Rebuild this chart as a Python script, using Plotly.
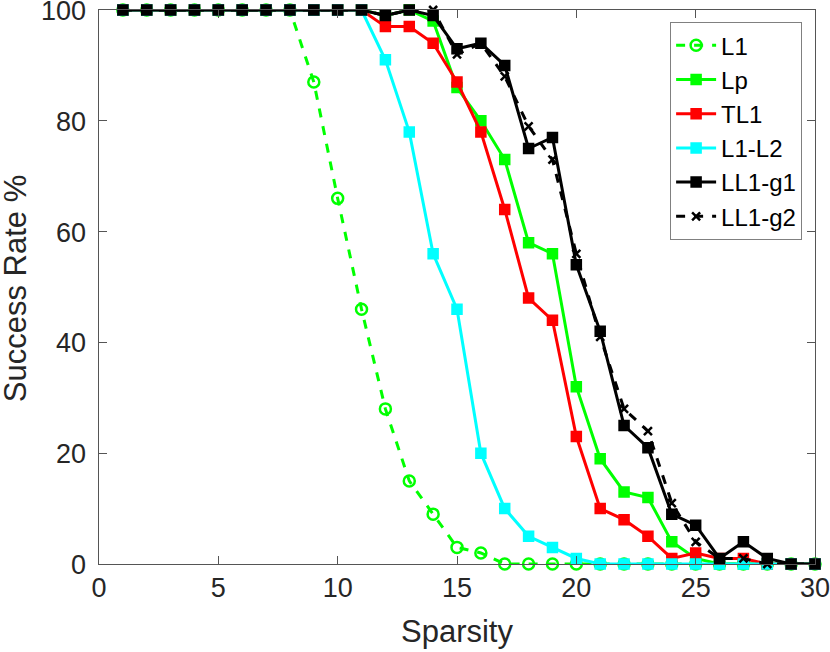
import plotly.graph_objects as go

sparsity = list(range(1, 31))

L1 = [100, 100, 100, 100, 100, 100, 100, 100, 87, 66, 46, 28, 15, 9, 3, 2,
      0, 0, 0, 0, 0, 0, 0, 0, 0, 0, 0, 0, 0, 0]
Lp = [100, 100, 100, 100, 100, 100, 100, 100, 100, 100, 100, 99, 100, 98, 86, 80,
      73, 58, 56, 32, 19, 13, 12, 4, 1, 0, 0, 0, 0, 0]
TL1 = [100, 100, 100, 100, 100, 100, 100, 100, 100, 100, 100, 97, 97, 94, 87, 78,
       64, 48, 44, 23, 10, 8, 5, 1, 2, 1, 1, 0, 0, 0]
L1_L2 = [100, 100, 100, 100, 100, 100, 100, 100, 100, 100, 100, 91, 78, 56, 46, 20,
         10, 5, 3, 1, 0, 0, 0, 0, 0, 0, 0, 0, 0, 0]
LL1_g1 = [100, 100, 100, 100, 100, 100, 100, 100, 100, 100, 100, 99, 100, 99, 93, 94,
          90, 75, 77, 54, 42, 25, 21, 9, 7, 1, 4, 1, 0, 0]
LL1_g2 = [100, 100, 100, 100, 100, 100, 100, 100, 100, 100, 100, 99, 100, 100, 92, 94,
          88, 79, 73, 56, 41, 28, 24, 11, 4, 1, 1, 0, 0, 0]

x_ticks = [0, 5, 10, 15, 20, 25, 30]
y_ticks = [0, 20, 40, 60, 80, 100]

FONT = "Liberation Sans, Arial, sans-serif"
TXT = "#262626"

fig = go.Figure()

def add(name, y, color, dash, symbol, size):
    fig.add_trace(go.Scatter(
        x=sparsity, y=y, name=name, mode="lines+markers", cliponaxis=False,
        line=dict(color=color, width=3, dash=dash),
        marker=dict(symbol=symbol, size=size, color=color, line=dict(width=2.5, color=color))))

add("L1", L1, "#00ff00", "dash", "circle-open", 11)
add("Lp", Lp, "#00ff00", "solid", "square", 9)
add("TL1", TL1, "#ff0000", "solid", "square", 9)
add("L1-L2", L1_L2, "#00ffff", "solid", "square", 9)
add("LL1-g1", LL1_g1, "#000000", "solid", "square", 9)
add("LL1-g2", LL1_g2, "#000000", "dash", "x-thin-open", 8)

axis_common = dict(
    showgrid=False, zeroline=False, showline=True, linecolor="#555555", linewidth=1,
    mirror="ticks", ticks="inside", ticklen=8, tickwidth=1, tickcolor="#555555",
    tickfont=dict(family=FONT, size=27, color=TXT), automargin=False,
    ticklabeloverflow="allow",
)

# y tick labels placed on the y scale, close to the axis like the reference
annotations = [
    dict(text=str(v), x=0, xref="paper", xanchor="right", xshift=-11,
         y=v, yref="y", yanchor="middle", yshift=-1, showarrow=False,
         font=dict(family=FONT, size=27, color=TXT))
    for v in y_ticks
]
annotations.append(dict(text="Sparsity", x=0.5, xref="paper", xanchor="center",
                        y=-0.1227, yref="paper", yanchor="middle", showarrow=False,
                        font=dict(family=FONT, size=31, color=TXT)))
annotations.append(dict(text="Success Rate %", x=-0.1173, xref="paper", xanchor="center",
                        y=0.496, yref="paper", yanchor="middle", showarrow=False, textangle=-90,
                        font=dict(family=FONT, size=31, color=TXT)))

fig.update_layout(
    width=830, height=652,
    margin=dict(l=99, r=15, t=10, b=88),
    paper_bgcolor="white", plot_bgcolor="white",
    font=dict(family=FONT, color=TXT),
    xaxis=dict(range=[0, 30], tickvals=x_ticks, ticktext=[str(v) for v in x_ticks],
               **axis_common),
    yaxis=dict(range=[0, 100], tickvals=y_ticks, showticklabels=False,
               **axis_common),
    annotations=annotations,
    legend=dict(x=0.982, y=0.978, xanchor="right", yanchor="top",
                bgcolor="white", bordercolor="#808080", borderwidth=1,
                font=dict(family=FONT, size=24, color="#000000"),
                tracegroupgap=0, itemwidth=40),
    showlegend=True,
)

fig.write_html("out.html", config={"displayModeBar": False},
               post_script="document.body.style.margin='0';document.body.style.overflow='hidden';")
